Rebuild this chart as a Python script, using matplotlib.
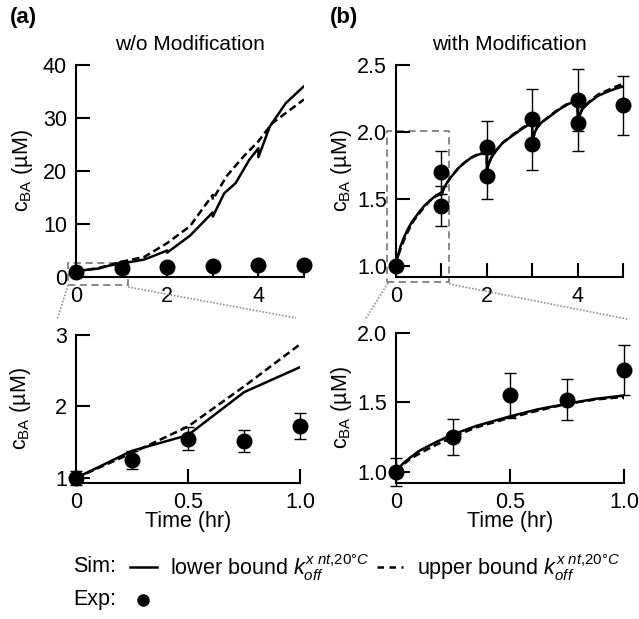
import numpy as np
import matplotlib
matplotlib.use('Agg')
import matplotlib.pyplot as plt
from matplotlib.lines import Line2D
from matplotlib.patches import Rectangle

plt.rcParams['font.family'] = ['Liberation Sans', 'DejaVu Sans']
plt.rcParams['mathtext.fontset'] = 'custom'
plt.rcParams['mathtext.rm'] = 'Liberation Sans'
plt.rcParams['mathtext.it'] = 'Liberation Sans:italic'

# (a) w/o modification - simulations
t_a_lo = [0, 0.25, 0.5, 0.75, 1.0, 1.5, 2.0, 2.0, 2.5, 3.0, 3.0, 3.25, 3.5, 3.8, 4.0, 4.0, 4.25, 4.6, 5.0]
c_a_lo = [1.0, 1.38, 1.6, 2.2, 2.55, 3.3, 5.0, 4.6, 7.8, 12.2, 11.4, 15.8, 17.7, 22.1, 24.3, 22.6, 28.4, 32.8, 36.0]
t_a_up = [0, 0.25, 0.5, 0.75, 1.0, 1.5, 2.0, 2.5, 3.0, 3.0, 3.3, 3.68, 4.0, 4.3, 5.0]
c_a_up = [1.0, 1.35, 1.72, 2.28, 2.87, 3.8, 6.4, 9.6, 15.5, 14.6, 19.0, 22.8, 25.6, 29.0, 33.5]

# (b) with modification - simulations
t_b = [0, 0.03, 0.06, 0.1, 0.17, 0.25, 0.35, 0.5, 0.62, 0.75, 0.87, 1.0,
       1.0, 1.05, 1.1, 1.2, 1.37, 1.5, 1.66, 1.8, 2.0,
       2.0, 2.05, 2.1, 2.2, 2.35, 2.55, 2.8, 3.0,
       3.0, 3.05, 3.1, 3.2, 3.4, 3.6, 3.8, 4.0,
       4.0, 4.05, 4.1, 4.25, 4.45, 4.65, 4.85, 5.0]
c_b_lo = [1.0, 1.06, 1.1, 1.15, 1.21, 1.27, 1.33, 1.40, 1.45, 1.49, 1.525, 1.55,
          1.53, 1.58, 1.61, 1.66, 1.73, 1.77, 1.81, 1.83, 1.855,
          1.71, 1.77, 1.81, 1.86, 1.92, 1.97, 2.03, 2.07,
          1.93, 1.99, 2.03, 2.07, 2.12, 2.17, 2.21, 2.235,
          2.08, 2.13, 2.17, 2.22, 2.27, 2.30, 2.325, 2.34]
c_b_up = [1.0, 1.05, 1.09, 1.13, 1.19, 1.25, 1.32, 1.39, 1.44, 1.49, 1.52, 1.54,
          1.53, 1.58, 1.61, 1.66, 1.73, 1.77, 1.81, 1.835, 1.86,
          1.71, 1.77, 1.81, 1.86, 1.92, 1.975, 2.035, 2.075,
          1.93, 1.99, 2.03, 2.07, 2.125, 2.175, 2.215, 2.24,
          2.08, 2.13, 2.17, 2.225, 2.28, 2.31, 2.34, 2.36]

# experiment
t_exp = [0, 1, 1, 2, 2, 3, 3, 4, 4, 5]
c_exp = [1.0, 1.7, 1.45, 1.89, 1.67, 2.1, 1.91, 2.24, 2.07, 2.2]
e_exp = [0.02, 0.16, 0.15, 0.19, 0.17, 0.22, 0.19, 0.23, 0.21, 0.22]
t_exp_a = [0, 1, 2, 3, 4, 5]
c_exp_a = [1.0, 1.73, 1.89, 2.1, 2.24, 2.2]
t_exp1 = [0, 0.25, 0.5, 0.75, 1.0]
c_exp1 = [1.0, 1.25, 1.55, 1.52, 1.73]
e_exp1 = [0.1, 0.13, 0.16, 0.15, 0.18]

W, H = 639, 619
fig = plt.figure(figsize=(W / 100, H / 100), dpi=100)
FS = 15.5


def px_axes(x0, y0, x1, y1):
    return fig.add_axes([x0 / W, 1 - y1 / H, (x1 - x0) / W, (y1 - y0) / H])


def style(ax):
    for s in ['top', 'right']:
        ax.spines[s].set_visible(False)
    for s in ['left', 'bottom']:
        ax.spines[s].set_linewidth(1.5)
    ax.tick_params(direction='in', length=10, width=1.5, labelsize=FS, pad=6.5)


ylab = 'c$_{\\mathrm{BA}}$ (µM)'
koff = '$k_{off}^{x\\ nt{,}20°C}$'
lw = 1.8
dash = (0, (3, 1.6))
ms = 10.5

axA = px_axes(76, 65, 304, 277)
axB = px_axes(396, 65, 623, 277)
axC = px_axes(76, 335, 300, 483)
axD = px_axes(396, 333, 624, 483)

# (a) top
axA.plot(t_a_lo, c_a_lo, 'k-', lw=lw)
axA.plot(t_a_up, c_a_up, 'k', ls=dash, lw=lw)
axA.plot(t_exp_a, c_exp_a, 'ko', ms=ms, clip_on=False, zorder=5)
axA.set_xlim(0, 5)
axA.set_ylim(0, 40)
axA.set_xticks([0, 1, 2, 3, 4, 5], ['0', '', '2', '', '4', ''])
axA.set_yticks([0, 10, 20, 30, 40])
axA.set_title('w/o Modification', fontsize=15, pad=11)
axA.set_ylabel(ylab, fontsize=FS)
style(axA)
axA.yaxis.set_label_coords(-0.18, 0.5)
axA.add_patch(Rectangle((-0.18, -1.5), 1.32, 4.1, fill=False, ec='#808080',
                        ls=(0, (4, 2.5)), lw=1.3, clip_on=False))

# (b) top
axB.plot(t_b, c_b_lo, 'k-', lw=lw)
axB.plot(t_b, c_b_up, 'k', ls=dash, lw=lw)
axB.errorbar(t_exp, c_exp, yerr=e_exp, fmt='o', color='k', ms=ms, capsize=4.5,
             elinewidth=1.0, capthick=1.0, clip_on=False, zorder=5)
axB.set_xlim(0, 5)
axB.set_ylim(0.92, 2.5)
axB.set_xticks([0, 1, 2, 3, 4, 5], ['0', '', '2', '', '4', ''])
axB.set_yticks([1.0, 1.5, 2.0, 2.5])
axB.set_title('with Modification', fontsize=15, pad=11)
axB.set_ylabel(ylab, fontsize=FS)
style(axB)
axB.yaxis.set_label_coords(-0.185, 0.5)
axB.add_patch(Rectangle((-0.19, 0.88), 1.35, 1.13, fill=False, ec='#808080',
                        ls=(0, (4, 2.5)), lw=1.3, clip_on=False))

# (a) bottom
axC.plot(t_a_lo, c_a_lo, 'k-', lw=lw)
axC.plot(t_a_up, c_a_up, 'k', ls=dash, lw=lw)
axC.errorbar(t_exp1, c_exp1, yerr=e_exp1, fmt='o', color='k', ms=ms, capsize=4.5,
             elinewidth=1.0, capthick=1.0, clip_on=False, zorder=5)
axC.set_xlim(0, 1)
axC.set_ylim(0.93, 3)
axC.set_xticks([0, 0.5, 1.0], ['0', '0.5', '1.0'])
axC.set_yticks([1, 2, 3])
axC.set_xlabel('Time (hr)', fontsize=FS)
axC.set_ylabel(ylab, fontsize=FS)
style(axC)
axC.yaxis.set_label_coords(-0.19, 0.5)
axC.xaxis.set_label_coords(0.5, -0.19)

# (b) bottom
axD.plot(t_b, c_b_lo, 'k-', lw=lw)
axD.plot(t_b, c_b_up, 'k', ls=dash, lw=lw)
axD.errorbar(t_exp1, c_exp1, yerr=e_exp1, fmt='o', color='k', ms=ms, capsize=4.5,
             elinewidth=1.0, capthick=1.0, clip_on=False, zorder=5)
axD.set_xlim(0, 1)
axD.set_ylim(0.92, 2.0)
axD.set_xticks([0, 0.5, 1.0], ['0', '0.5', '1.0'])
axD.set_yticks([1.0, 1.5, 2.0])
axD.set_xlabel('Time (hr)', fontsize=FS)
axD.set_ylabel(ylab, fontsize=FS)
style(axD)
axD.yaxis.set_label_coords(-0.184, 0.5)
axD.xaxis.set_label_coords(0.5, -0.19)

# dotted zoom connectors (pixel coords)
for (x0, y0, x1, y1) in [(68, 285, 57, 320), (128, 287, 296, 318),
                         (388, 283, 365, 320), (449, 284, 627, 319)]:
    fig.add_artist(Line2D([x0 / W, x1 / W], [1 - y0 / H, 1 - y1 / H],
                          transform=fig.transFigure, color='#909090',
                          ls=(0, (1, 1)), lw=1.2))

fig.text(10 / W, 1 - 17 / H, '(a)', fontsize=16, fontweight='bold', va='center')
fig.text(330 / W, 1 - 17 / H, '(b)', fontsize=16, fontweight='bold', va='center')

# legend
ky = 1 - 567 / H
fig.text(73 / W, ky, 'Sim:', fontsize=FS, va='center')
fig.add_artist(Line2D([130 / W, 157 / W], [ky, ky], color='k', lw=lw,
                      transform=fig.transFigure))
fig.text(170 / W, ky, 'lower bound ' + koff, fontsize=FS, va='center')
fig.add_artist(Line2D([377 / W, 403 / W], [ky, ky], color='k', lw=lw,
                      ls=(0, (2.6, 2.2)), transform=fig.transFigure))
fig.text(417 / W, ky, 'upper bound ' + koff, fontsize=FS, va='center')
ey = 1 - 600 / H
fig.text(73 / W, ey, 'Exp:', fontsize=FS, va='center')
fig.add_artist(Line2D([143 / W], [ey], marker='o', color='k', ms=8,
                      transform=fig.transFigure))

fig.savefig('out.png', dpi=100)
